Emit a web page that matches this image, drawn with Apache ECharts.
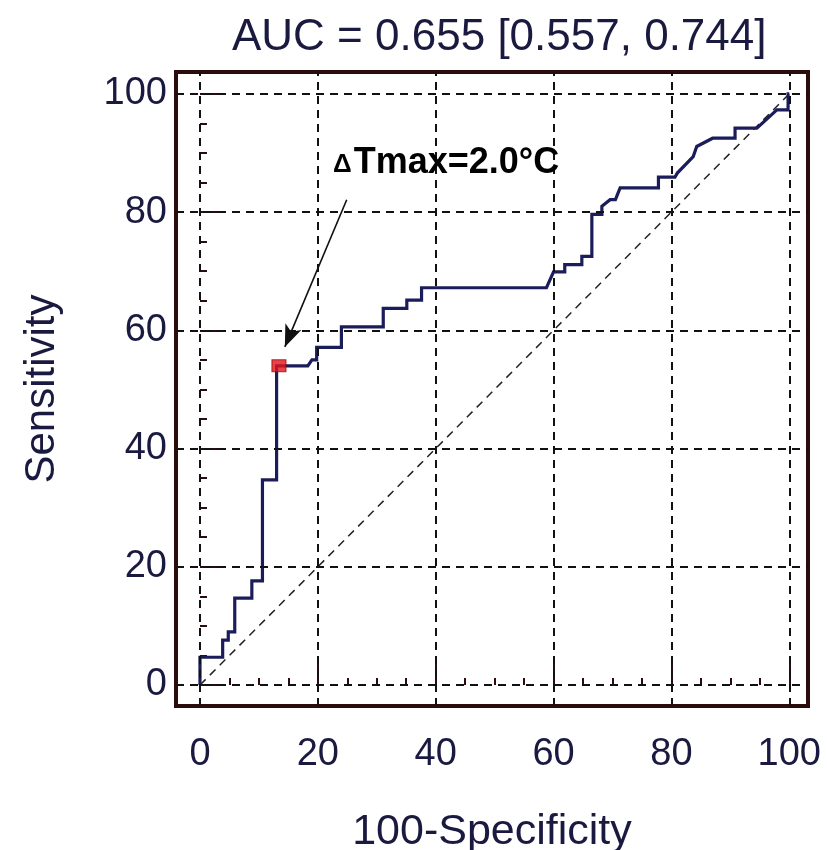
<!DOCTYPE html>
<html>
<head>
<meta charset="utf-8">
<script src="https://cdn.jsdelivr.net/npm/echarts@6/dist/echarts.min.js"></script>
<style>
html,body{margin:0;padding:0;background:#fff;}
#chart{width:827px;height:850px;}
</style>
</head>
<body>
<div id="chart"></div>
<script>
// ---- data ----
const rocX = [0,0,3.85,3.85,4.8,4.8,5.9,5.9,8.8,8.8,10.6,10.6,13.0,13.0,18.3,19.0,19.8,19.8,24.0,24.0,31.1,31.1,35.1,35.1,37.6,37.6,58.8,60.0,61.9,61.9,64.8,64.8,66.5,66.5,68.2,68.2,69.6,70.5,71.3,77.8,77.8,80.6,81.0,83.7,84.3,87.0,90.8,90.8,94.5,97.9,99.8,99.8,100];
const rocY = [0,4.7,4.7,7.6,7.6,9.0,9.0,14.7,14.7,17.6,17.6,34.7,34.7,54.0,54.0,55.0,55.0,57.1,57.1,60.6,60.6,63.7,63.7,65.1,65.1,67.2,67.2,69.9,69.9,71.1,71.1,72.5,72.5,79.6,79.6,81.0,82.1,82.1,84.1,84.1,85.9,85.9,86.6,89.4,91.1,92.5,92.5,94.2,94.2,97.3,97.3,100,100];
const diagX = [0,100];
const diagY = [0,100];
const cutoffPoint = [13.4, 54.0];
const cutoffLabel = 'Tmax=2.0°C';
const cutoffLabelPos = [22.4, 88.3];
const arrowTail = [24.9, 82.1];
const arrowHead = [14.4, 57.2];
const tickValues = [0,20,40,60,80,100];
const minorTickValues = [0,5,10,15,20,25,30,35,40,45,50,55,60,65,70,75,80,85,90,95,100];
const titleText = 'AUC = 0.655 [0.557, 0.744]';
const xName = '100-Specificity';
const yName = 'Sensitivity';

const rocData = rocX.map((x,i)=>[x, rocY[i]]);
const diagData = diagX.map((x,i)=>[x, diagY[i]]);

const FONT = '"Liberation Sans", Arial, sans-serif';
const TXT = '#1a1a40';
const FRAME = '#2b0b0b';
const X_MIN = -4.07, X_MAX = 103.18, Y_MIN = -3.55, Y_MAX = 103.7;

const chart = echarts.init(document.getElementById('chart'), null, {renderer:'canvas'});

function mainAxis(isX){
  return {
    type:'value', min: isX?X_MIN:Y_MIN, max: isX?X_MAX:Y_MAX,
    position: isX?'bottom':'left',
    name: isX?xName:yName,
    nameLocation:'middle',
    nameGap: isX?105:113,
    nameTextStyle:{fontFamily:FONT, fontSize: isX?43:42, color:TXT},
    axisLine:{show:false},
    axisTick:{show:true, inside:true, length:21, customValues:tickValues, lineStyle:{color:FRAME, width:2}},
    axisLabel:{show:true, customValues:tickValues, fontFamily:FONT, fontSize:38, color:TXT, margin: isX?30:9},
    splitLine:{show:false}
  };
}
function minorAxis(isX){
  return {
    type:'value', min: isX?X_MIN:Y_MIN, max: isX?X_MAX:Y_MAX,
    position: isX?'bottom':'left',
    axisLine:{show:false},
    axisTick:{show:true, inside:true, length:7, customValues:minorTickValues, lineStyle:{color:FRAME, width:2}},
    axisLabel:{show:false},
    splitLine:{show:false}
  };
}

const gridLines = tickValues.map(v=>({xAxis:v})).concat(tickValues.map(v=>({yAxis:v})));

const option = {
  animation:false,
  backgroundColor:'#fff',
  title:{text:titleText, left:227, top:11, textStyle:{fontFamily:FONT, fontSize:44, fontWeight:'normal', color:TXT}},
  grid:{left:176, right:19, top:72, bottom:144, show:true, borderColor:FRAME, borderWidth:4, backgroundColor:'#fff', containLabel:false, outerBoundsMode:'none'},
  xAxis:[mainAxis(true), minorAxis(true)],
  yAxis:[mainAxis(false), minorAxis(false)],
  series:[
    {
      name:'grid', type:'line', data:[], z:1, silent:true,
      markLine:{silent:true, symbol:['none','none'], label:{show:false}, animation:false,
        lineStyle:{color:'#111', type:[8,6], width:2}, data:gridLines}
    },
    {
      name:'diag', type:'line', data:diagData, z:2, symbol:'none', silent:true,
      lineStyle:{color:'#222', type:[8,6], width:1.5}
    },
    {
      name:'roc', type:'line', data:rocData, z:3, symbol:'none', silent:true,
      lineStyle:{color:'#1b1d5a', width:3.2, join:'miter'}
    },
    {
      name:'arrow', type:'line', data:[], z:4, silent:true,
      markLine:{silent:true, symbol:['none','arrow'], symbolSize:[13,22], label:{show:false},
        lineStyle:{color:'#111', type:'solid', width:1.6},
        data:[[{coord:arrowTail},{coord:arrowHead}]]}
    },
    {
      name:'cutoff', type:'scatter', data:[cutoffPoint], z:5, symbol:'rect', symbolSize:[14,12], silent:true,
      itemStyle:{color:'#e3141c', borderColor:'#9a0a0a', borderWidth:1}
    },
    {
      name:'label', type:'scatter', data:[cutoffLabelPos], z:5, symbol:'circle', symbolSize:2, silent:true,
      itemStyle:{color:'rgba(255,255,255,0)'},
      label:{show:true, position:'right', distance:0, color:'#000', opacity:1, textBorderWidth:0,
        formatter:'{d|Δ}{t|'+cutoffLabel+'}',
        rich:{
          d:{fontFamily:FONT, fontSize:26, fontWeight:'bold', color:'#000', textBorderWidth:0, padding:[4,2,0,0]},
          t:{fontFamily:FONT, fontSize:36, fontWeight:'bold', color:'#000', textBorderWidth:0}
        }}
    }
  ]
};
chart.setOption(option);
</script>
</body>
</html>
